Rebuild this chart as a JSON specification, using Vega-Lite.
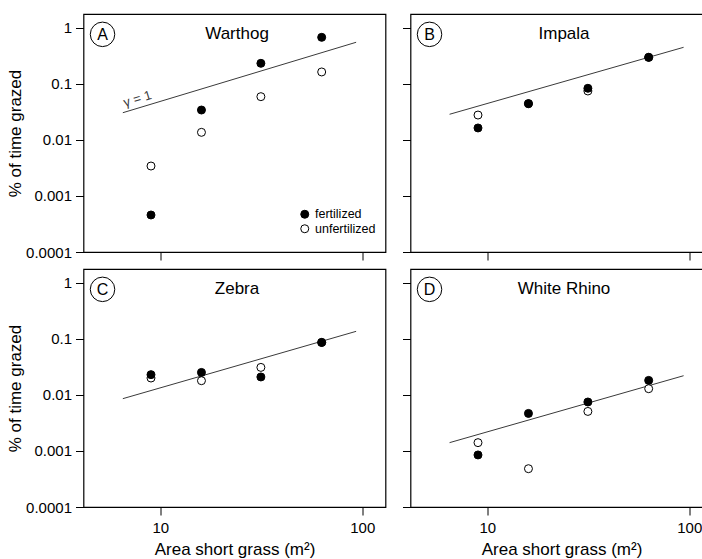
{
  "$schema": "https://vega.github.io/schema/vega-lite/v6.json",
  "padding": {"left": 5.5, "top": 13, "right": 0, "bottom": 0},
  "background": "white",
  "datasets": {
    "obs": [
      {"species": "Warthog", "area": 9, "treatment": "unfertilized", "pct": 0.00343},
      {"species": "Warthog", "area": 16, "treatment": "unfertilized", "pct": 0.0137},
      {"species": "Warthog", "area": 31.5, "treatment": "unfertilized", "pct": 0.0594},
      {"species": "Warthog", "area": 63, "treatment": "unfertilized", "pct": 0.164},
      {"species": "Impala", "area": 9, "treatment": "unfertilized", "pct": 0.0279},
      {"species": "Impala", "area": 16, "treatment": "unfertilized", "pct": 0.0446},
      {"species": "Impala", "area": 31.5, "treatment": "unfertilized", "pct": 0.075},
      {"species": "Impala", "area": 63, "treatment": "unfertilized", "pct": 0.299},
      {"species": "Zebra", "area": 9, "treatment": "unfertilized", "pct": 0.0201},
      {"species": "Zebra", "area": 16, "treatment": "unfertilized", "pct": 0.018},
      {"species": "Zebra", "area": 31.5, "treatment": "unfertilized", "pct": 0.0311},
      {"species": "Zebra", "area": 63, "treatment": "unfertilized", "pct": 0.0869},
      {"species": "White Rhino", "area": 9, "treatment": "unfertilized", "pct": 0.00141},
      {"species": "White Rhino", "area": 16, "treatment": "unfertilized", "pct": 0.000483},
      {"species": "White Rhino", "area": 31.5, "treatment": "unfertilized", "pct": 0.00509},
      {"species": "White Rhino", "area": 63, "treatment": "unfertilized", "pct": 0.01296},
      {"species": "Warthog", "area": 9, "treatment": "fertilized", "pct": 0.000458},
      {"species": "Warthog", "area": 16, "treatment": "fertilized", "pct": 0.0343},
      {"species": "Warthog", "area": 31.5, "treatment": "fertilized", "pct": 0.234},
      {"species": "Warthog", "area": 63, "treatment": "fertilized", "pct": 0.681},
      {"species": "Impala", "area": 9, "treatment": "fertilized", "pct": 0.0164},
      {"species": "Impala", "area": 16, "treatment": "fertilized", "pct": 0.0446},
      {"species": "Impala", "area": 31.5, "treatment": "fertilized", "pct": 0.0838},
      {"species": "Impala", "area": 63, "treatment": "fertilized", "pct": 0.299},
      {"species": "Zebra", "area": 9, "treatment": "fertilized", "pct": 0.0231},
      {"species": "Zebra", "area": 16, "treatment": "fertilized", "pct": 0.0253},
      {"species": "Zebra", "area": 31.5, "treatment": "fertilized", "pct": 0.021},
      {"species": "Zebra", "area": 63, "treatment": "fertilized", "pct": 0.0869},
      {"species": "White Rhino", "area": 9, "treatment": "fertilized", "pct": 0.00085},
      {"species": "White Rhino", "area": 16, "treatment": "fertilized", "pct": 0.00469},
      {"species": "White Rhino", "area": 31.5, "treatment": "fertilized", "pct": 0.0075},
      {"species": "White Rhino", "area": 63, "treatment": "fertilized", "pct": 0.01824}
    ],
    "fit": [
      {"species": "Warthog", "area": 6.53, "pct": 0.0307},
      {"species": "Warthog", "area": 93.3, "pct": 0.556},
      {"species": "Impala", "area": 6.51, "pct": 0.0288},
      {"species": "Impala", "area": 93.8, "pct": 0.452},
      {"species": "Zebra", "area": 6.53, "pct": 0.0086},
      {"species": "Zebra", "area": 93.3, "pct": 0.137},
      {"species": "White Rhino", "area": 6.51, "pct": 0.00141},
      {"species": "White Rhino", "area": 93.8, "pct": 0.0221}
    ],
    "panels": [
      {"species": "Warthog", "letter": "A"},
      {"species": "Impala", "letter": "B"},
      {"species": "Zebra", "letter": "C"},
      {"species": "White Rhino", "letter": "D"}
    ]
  },
  "columns": 2,
  "spacing": {"row": 6, "column": 14},
  "resolve": {"legend": {"fill": "independent"}},
  "concat": [
    {
      "width": 302, "height": 238,
      "layer": [
        {
          "data": {"name": "fit"},
          "transform": [{"filter": "datum.species === 'Warthog'"}],
          "mark": {"type": "line", "color": "#3a3a3a", "strokeWidth": 1},
          "encoding": {
            "x": {"field": "area", "type": "quantitative", "scale": {"type": "log", "domain": [4.17, 130.4], "nice": false},
                  "axis": {"values": [10, 100], "labels": false, "title": null}},
            "y": {"field": "pct", "type": "quantitative", "scale": {"type": "log", "domain": [0.0001, 1.778], "nice": false},
                  "axis": {"values": [0.0001, 0.001, 0.01, 0.1, 1], "format": "~g", "title": "% of time grazed", "labelPadding": 4, "titlePadding": 1}}
          }
        },
        {
          "data": {"name": "obs"},
          "transform": [{"filter": "datum.species === 'Warthog'"}],
          "mark": {"type": "point", "filled": true, "stroke": "black", "strokeWidth": 1, "size": 64, "opacity": 1},
          "encoding": {
            "x": {"field": "area", "type": "quantitative"},
            "y": {"field": "pct", "type": "quantitative"},
            "fill": {"field": "treatment", "type": "nominal",
                     "scale": {"domain": ["fertilized", "unfertilized"], "range": ["black", "white"]},
                     "legend": {"title": null, "orient": "none", "legendX": 215, "legendY": 194, "padding": 0,
                                "symbolType": "circle", "symbolSize": 64, "symbolStrokeColor": "black", "symbolStrokeWidth": 1,
                                "labelFontSize": 12.5, "labelFont": "Liberation Sans", "labelColor": "black", "labelOffset": 4, "rowPadding": 1.5}}
          }
        },
        {
          "data": {"name": "panels"},
          "transform": [{"filter": "datum.species === 'Warthog'"}],
          "layer": [
            {"mark": {"type": "point", "shape": "circle", "size": 600, "filled": false, "color": "black", "strokeWidth": 1, "opacity": 1},
             "encoding": {"x": {"datum": 5.18, "type": "quantitative"}, "y": {"datum": 0.77, "type": "quantitative"}}},
            {"mark": {"type": "text", "fontSize": 16, "font": "Liberation Sans", "align": "center", "baseline": "middle", "dy": 1, "color": "black"},
             "encoding": {"x": {"datum": 5.18, "type": "quantitative"}, "y": {"datum": 0.77, "type": "quantitative"}, "text": {"field": "letter"}}},
            {"mark": {"type": "text", "fontSize": 17, "font": "Liberation Sans", "align": "center", "baseline": "alphabetic", "color": "black"},
             "encoding": {"x": {"datum": 24, "type": "quantitative"}, "y": {"datum": 0.64, "type": "quantitative"}, "text": {"field": "species"}}},
            {"mark": {"type": "text", "fontSize": 13, "font": "Liberation Sans", "align": "center", "baseline": "bottom", "angle": 343, "color": "#3a3a3a"},
             "encoding": {"x": {"datum": 7.9, "type": "quantitative"}, "y": {"datum": 0.041, "type": "quantitative"}, "text": {"value": "γ = 1"}}}
          ]
        }
      ]
    },
    {
      "width": 302, "height": 238,
      "layer": [
        {
          "data": {"name": "fit"},
          "transform": [{"filter": "datum.species === 'Impala'"}],
          "mark": {"type": "line", "color": "#3a3a3a", "strokeWidth": 1},
          "encoding": {
            "x": {"field": "area", "type": "quantitative", "scale": {"type": "log", "domain": [4.17, 130.4], "nice": false},
                  "axis": {"values": [10, 100], "labels": false, "title": null}},
            "y": {"field": "pct", "type": "quantitative", "scale": {"type": "log", "domain": [0.0001, 1.778], "nice": false},
                  "axis": {"values": [0.0001, 0.001, 0.01, 0.1, 1], "labels": false, "title": null}}
          }
        },
        {
          "data": {"name": "obs"},
          "transform": [{"filter": "datum.species === 'Impala'"}],
          "mark": {"type": "point", "filled": true, "stroke": "black", "strokeWidth": 1, "size": 64, "opacity": 1},
          "encoding": {
            "x": {"field": "area", "type": "quantitative"},
            "y": {"field": "pct", "type": "quantitative"},
            "fill": {"field": "treatment", "type": "nominal", "scale": {"domain": ["fertilized", "unfertilized"], "range": ["black", "white"]}, "legend": null}
          }
        },
        {
          "data": {"name": "panels"},
          "transform": [{"filter": "datum.species === 'Impala'"}],
          "layer": [
            {"mark": {"type": "point", "shape": "circle", "size": 600, "filled": false, "color": "black", "strokeWidth": 1, "opacity": 1},
             "encoding": {"x": {"datum": 5.18, "type": "quantitative"}, "y": {"datum": 0.77, "type": "quantitative"}}},
            {"mark": {"type": "text", "fontSize": 16, "font": "Liberation Sans", "align": "center", "baseline": "middle", "dy": 1, "color": "black"},
             "encoding": {"x": {"datum": 5.18, "type": "quantitative"}, "y": {"datum": 0.77, "type": "quantitative"}, "text": {"field": "letter"}}},
            {"mark": {"type": "text", "fontSize": 17, "font": "Liberation Sans", "align": "center", "baseline": "alphabetic", "color": "black"},
             "encoding": {"x": {"datum": 24, "type": "quantitative"}, "y": {"datum": 0.64, "type": "quantitative"}, "text": {"field": "species"}}}
          ]
        }
      ]
    },
    {
      "width": 302, "height": 238,
      "layer": [
        {
          "data": {"name": "fit"},
          "transform": [{"filter": "datum.species === 'Zebra'"}],
          "mark": {"type": "line", "color": "#3a3a3a", "strokeWidth": 1},
          "encoding": {
            "x": {"field": "area", "type": "quantitative", "scale": {"type": "log", "domain": [4.17, 130.4], "nice": false},
                  "axis": {"values": [10, 100], "format": "~g", "title": "Area short grass (m²)", "labelPadding": 5, "titlePadding": 6}},
            "y": {"field": "pct", "type": "quantitative", "scale": {"type": "log", "domain": [0.0001, 1.778], "nice": false},
                  "axis": {"values": [0.0001, 0.001, 0.01, 0.1, 1], "format": "~g", "title": "% of time grazed", "labelPadding": 4, "titlePadding": 1}}
          }
        },
        {
          "data": {"name": "obs"},
          "transform": [{"filter": "datum.species === 'Zebra'"}],
          "mark": {"type": "point", "filled": true, "stroke": "black", "strokeWidth": 1, "size": 64, "opacity": 1},
          "encoding": {
            "x": {"field": "area", "type": "quantitative"},
            "y": {"field": "pct", "type": "quantitative"},
            "fill": {"field": "treatment", "type": "nominal", "scale": {"domain": ["fertilized", "unfertilized"], "range": ["black", "white"]}, "legend": null}
          }
        },
        {
          "data": {"name": "panels"},
          "transform": [{"filter": "datum.species === 'Zebra'"}],
          "layer": [
            {"mark": {"type": "point", "shape": "circle", "size": 600, "filled": false, "color": "black", "strokeWidth": 1, "opacity": 1},
             "encoding": {"x": {"datum": 5.18, "type": "quantitative"}, "y": {"datum": 0.77, "type": "quantitative"}}},
            {"mark": {"type": "text", "fontSize": 16, "font": "Liberation Sans", "align": "center", "baseline": "middle", "dy": 1, "color": "black"},
             "encoding": {"x": {"datum": 5.18, "type": "quantitative"}, "y": {"datum": 0.77, "type": "quantitative"}, "text": {"field": "letter"}}},
            {"mark": {"type": "text", "fontSize": 17, "font": "Liberation Sans", "align": "center", "baseline": "alphabetic", "color": "black"},
             "encoding": {"x": {"datum": 24, "type": "quantitative"}, "y": {"datum": 0.64, "type": "quantitative"}, "text": {"field": "species"}}}
          ]
        }
      ]
    },
    {
      "width": 302, "height": 238,
      "layer": [
        {
          "data": {"name": "fit"},
          "transform": [{"filter": "datum.species === 'White Rhino'"}],
          "mark": {"type": "line", "color": "#3a3a3a", "strokeWidth": 1},
          "encoding": {
            "x": {"field": "area", "type": "quantitative", "scale": {"type": "log", "domain": [4.17, 130.4], "nice": false},
                  "axis": {"values": [10, 100], "format": "~g", "title": "Area short grass (m²)", "labelPadding": 5, "titlePadding": 6}},
            "y": {"field": "pct", "type": "quantitative", "scale": {"type": "log", "domain": [0.0001, 1.778], "nice": false},
                  "axis": {"values": [0.0001, 0.001, 0.01, 0.1, 1], "labels": false, "title": null}}
          }
        },
        {
          "data": {"name": "obs"},
          "transform": [{"filter": "datum.species === 'White Rhino'"}],
          "mark": {"type": "point", "filled": true, "stroke": "black", "strokeWidth": 1, "size": 64, "opacity": 1},
          "encoding": {
            "x": {"field": "area", "type": "quantitative"},
            "y": {"field": "pct", "type": "quantitative"},
            "fill": {"field": "treatment", "type": "nominal", "scale": {"domain": ["fertilized", "unfertilized"], "range": ["black", "white"]}, "legend": null}
          }
        },
        {
          "data": {"name": "panels"},
          "transform": [{"filter": "datum.species === 'White Rhino'"}],
          "layer": [
            {"mark": {"type": "point", "shape": "circle", "size": 600, "filled": false, "color": "black", "strokeWidth": 1, "opacity": 1},
             "encoding": {"x": {"datum": 5.18, "type": "quantitative"}, "y": {"datum": 0.77, "type": "quantitative"}}},
            {"mark": {"type": "text", "fontSize": 16, "font": "Liberation Sans", "align": "center", "baseline": "middle", "dy": 1, "color": "black"},
             "encoding": {"x": {"datum": 5.18, "type": "quantitative"}, "y": {"datum": 0.77, "type": "quantitative"}, "text": {"field": "letter"}}},
            {"mark": {"type": "text", "fontSize": 17, "font": "Liberation Sans", "align": "center", "baseline": "alphabetic", "color": "black"},
             "encoding": {"x": {"datum": 24, "type": "quantitative"}, "y": {"datum": 0.64, "type": "quantitative"}, "text": {"field": "species"}}}
          ]
        }
      ]
    }
  ],
  "config": {
    "view": {"stroke": "black", "strokeWidth": 1.2},
    "font": "Liberation Sans",
    "axis": {"grid": false, "domain": false, "ticks": true, "tickColor": "black", "tickSize": 8, "tickWidth": 1,
             "labelFont": "Liberation Sans", "labelFontSize": 15, "labelColor": "black",
             "titleFont": "Liberation Sans", "titleFontSize": 17, "titleFontWeight": "normal", "titleColor": "black"}
  }
}
